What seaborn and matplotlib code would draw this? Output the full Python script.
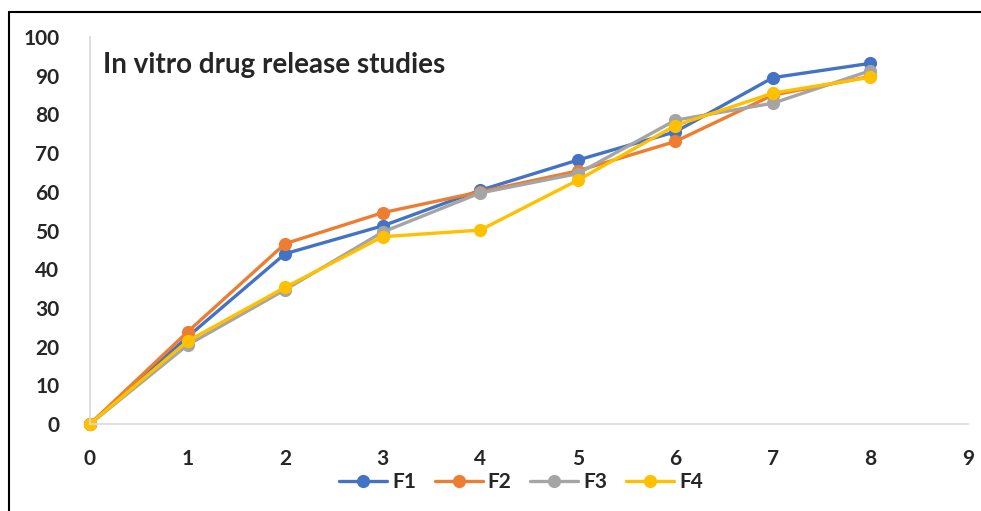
import pandas as pd
import numpy as np
import seaborn as sns
import matplotlib.pyplot as plt
from matplotlib.lines import Line2D

# data
time_points = [0, 1, 2, 3, 4, 5, 6, 7, 8]
F1 = [0, 22.5, 44.0, 51.2, 60.4, 68.2, 75.5, 89.5, 93.2]
F2 = [0, 23.8, 46.6, 54.6, 60.0, 65.4, 73.0, 85.0, 89.8]
F3 = [0, 20.4, 34.7, 49.6, 59.7, 64.7, 78.5, 82.9, 91.3]
F4 = [0, 21.4, 35.3, 48.4, 50.1, 63.0, 77.1, 85.5, 89.6]
series_names = ["F1", "F2", "F3", "F4"]
colors = ["#4472C4", "#ED7D31", "#A5A5A5", "#FFC000"]

sns.set_style("white")
plt.rcParams['font.family'] = ['Lato', 'DejaVu Sans']

rows = []
for name, vals in zip(series_names, [F1, F2, F3, F4]):
    for t, v in zip(time_points, vals):
        rows.append({"time": t, "release": v, "formulation": name})
df = pd.DataFrame(rows)

fig = plt.figure(figsize=(9.81, 5.11), dpi=100)
ax = fig.add_axes([90 / 981, 1 - 424 / 511, 878 / 981, 387 / 511])

sns.lineplot(data=df, x="time", y="release", hue="formulation",
             hue_order=series_names, palette=colors, marker="o",
             markersize=9.5, markeredgewidth=0, linewidth=2.4, ax=ax, legend=False)

ax.set_xlim(0, 9)
ax.set_ylim(0, 100)
ax.set_xticks(range(0, 10))
ax.set_yticks(range(0, 101, 10))
ax.set_xlabel("")
ax.set_ylabel("")
for s in ["top", "right"]:
    ax.spines[s].set_visible(False)
for s in ["left", "bottom"]:
    ax.spines[s].set_color("#D9D9D9")
    ax.spines[s].set_linewidth(1.2)
ax.tick_params(length=0, labelsize=15)
ax.tick_params(axis="y", pad=22)
ax.tick_params(axis="x", pad=18)
for lbl in ax.get_xticklabels() + ax.get_yticklabels():
    lbl.set_fontweight("bold")
for p in ax.lines:
    p.set_clip_on(False)

ax.text(0.015, 0.928, "In vitro drug release studies", transform=ax.transAxes,
        fontsize=20, fontweight="bold", va="center", ha="left")

handles = [Line2D([0], [0], color=c, marker="o", markersize=9.5, linewidth=2.4,
                  markeredgewidth=0) for c in colors]
leg = fig.legend(handles, series_names, loc="center", bbox_to_anchor=(521 / 981, 1 - 482 / 511),
                 ncol=4, frameon=False, prop={"weight": "bold", "size": 15},
                 handlelength=2.3, columnspacing=0.9, handletextpad=0.25)

# outer frame (left and top edges visible in the reference)
fig.add_artist(Line2D([9 / 981, 9 / 981], [0, 1 - 12 / 511], color="black", linewidth=1.5))
fig.add_artist(Line2D([9 / 981, 1], [1 - 12 / 511, 1 - 12 / 511], color="black", linewidth=1.5))

fig.savefig("out.png", dpi=100)
